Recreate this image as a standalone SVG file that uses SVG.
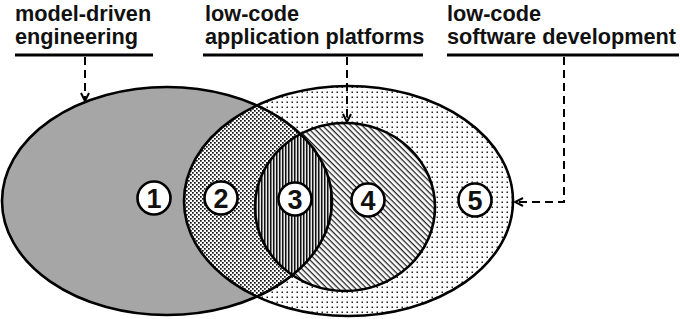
<svg xmlns="http://www.w3.org/2000/svg" width="680" height="319" viewBox="0 0 680 319">
<style>
.lbl{font-family:"Liberation Sans",Arial,sans-serif;font-weight:bold;font-size:21.7px;fill:#111}
.num{font-family:"Liberation Sans",Arial,sans-serif;font-weight:bold;font-size:27px;fill:#111;text-anchor:middle}
.edge{fill:none;stroke:#000;stroke-width:2.6}
.ul{stroke:#000;stroke-width:3}
.dash{fill:none;stroke:#000;stroke-width:2;stroke-dasharray:8 5}
.badge{fill:#fff;stroke:#000;stroke-width:2.6}
</style>
<defs>
<pattern id="sparse" width="5" height="5" patternUnits="userSpaceOnUse">
<rect width="5" height="5" fill="#fff"/>
<rect x="1.5" y="1.5" width="1.5" height="1.5" fill="#222"/>
</pattern>
<pattern id="dense" width="4" height="4" patternUnits="userSpaceOnUse">
<rect width="4" height="4" fill="#fff"/>
<rect x="0" y="0" width="1.7" height="1.7" fill="#111"/>
<rect x="2" y="2" width="1.7" height="1.7" fill="#111"/>
</pattern>
<pattern id="vert" width="3" height="3" patternUnits="userSpaceOnUse">
<rect width="3" height="3" fill="#e6e6e6"/>
<rect x="0" y="0" width="1.5" height="3" fill="#111"/>
</pattern>
<pattern id="diag" width="4" height="4" patternUnits="userSpaceOnUse" patternTransform="rotate(45)">
<rect width="4" height="4" fill="#fff"/>
<rect x="0" y="0" width="4" height="1.3" fill="#222"/>
</pattern>
<clipPath id="clipA"><ellipse cx="167" cy="201" rx="165" ry="114"/></clipPath>
<marker id="arr" viewBox="0 0 10 10" refX="9" refY="5" markerWidth="10" markerHeight="10" markerUnits="userSpaceOnUse" orient="auto">
<path d="M1,1 L9,5 L1,9" fill="none" stroke="#000" stroke-width="2"/>
</marker>
</defs>

<g id="region-fills">
<ellipse cx="348.5" cy="201" rx="164.5" ry="115" fill="url(#sparse)"/>
<ellipse cx="167" cy="201" rx="165" ry="114" fill="#a6a6a6"/>
<ellipse cx="348.5" cy="201" rx="164.5" ry="115" fill="url(#dense)" clip-path="url(#clipA)"/>
<ellipse cx="345" cy="207" rx="90" ry="84" fill="url(#diag)"/>
<ellipse cx="345" cy="207" rx="90" ry="84" fill="url(#vert)" clip-path="url(#clipA)"/>
</g>

<g id="set-model-driven-engineering">
<ellipse class="edge" cx="167" cy="201" rx="165" ry="114"/>
<text class="lbl" x="15" y="20.5">model-driven</text>
<text class="lbl" x="15" y="44">engineering</text>
<line class="ul" x1="15" y1="55" x2="153" y2="55"/>
</g>

<g id="set-low-code-software-development">
<ellipse class="edge" cx="348.5" cy="201" rx="164.5" ry="115"/>
<text class="lbl" x="447" y="20.5">low-code</text>
<text class="lbl" x="447" y="44">software development</text>
<line class="ul" x1="447" y1="55" x2="679" y2="55"/>
</g>

<g id="set-low-code-application-platforms">
<ellipse class="edge" cx="345" cy="207" rx="90" ry="84"/>
<text class="lbl" x="205" y="20.5">low-code</text>
<text class="lbl" x="205" y="44">application platforms</text>
<line class="ul" x1="203" y1="55" x2="423" y2="55"/>
</g>

<g id="connectors">
<path class="dash" d="M85,57 V101" marker-end="url(#arr)"/>
<path class="dash" d="M347,57 V122" marker-end="url(#arr)"/>
<path class="dash" d="M564,57 V202 H515" marker-end="url(#arr)"/>
</g>

<g id="badge-1"><circle class="badge" cx="154" cy="198" r="16.5"/><text class="num" x="154" y="207.5">1</text></g>
<g id="badge-2"><circle class="badge" cx="221" cy="198" r="16.5"/><text class="num" x="221" y="207.5">2</text></g>
<g id="badge-3"><circle class="badge" cx="295" cy="199" r="16.5"/><text class="num" x="295" y="208.5">3</text></g>
<g id="badge-4"><circle class="badge" cx="368" cy="200" r="16.5"/><text class="num" x="368" y="209.5">4</text></g>
<g id="badge-5"><circle class="badge" cx="475" cy="200" r="16.5"/><text class="num" x="475" y="209.5">5</text></g>
</svg>
